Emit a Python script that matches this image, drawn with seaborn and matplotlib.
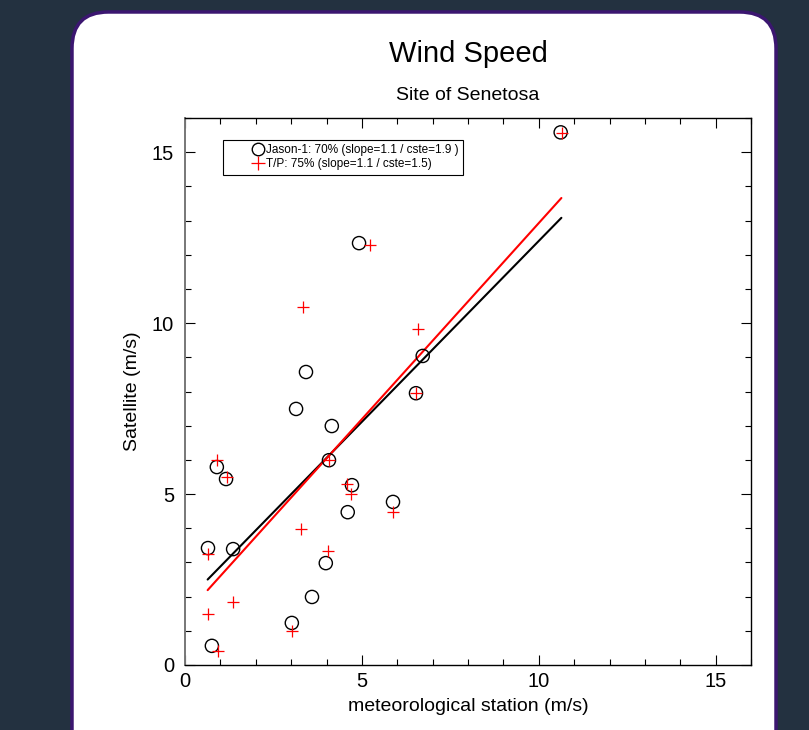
import numpy as np
import pandas as pd
import seaborn as sns
import matplotlib.pyplot as plt
from matplotlib.patches import FancyBboxPatch
from matplotlib.lines import Line2D

sns.set_theme(style='ticks')
plt.rcParams['font.family'] = ['Liberation Sans', 'DejaVu Sans']
plt.rcParams['text.color'] = 'black'
plt.rcParams['axes.labelcolor'] = 'black'

# Jason-1 points (station, satellite)
jason_x = [0.65, 0.9, 1.16, 0.76, 1.36, 3.14, 3.42, 4.15, 4.07, 4.72, 4.6, 3.98, 3.59, 3.02, 4.92, 5.88, 6.53, 6.72, 10.62]
jason_y = [3.42, 5.79, 5.44, 0.56, 3.39, 7.49, 8.57, 6.99, 5.99, 5.26, 4.47, 2.98, 1.99, 1.23, 12.34, 4.77, 7.95, 9.04, 15.58]
# T/P points
tp_x = [0.66, 0.9, 1.2, 0.66, 0.94, 1.35, 3.02, 3.28, 4.05, 4.57, 4.68, 5.89, 4.08, 3.34, 6.6, 6.53, 5.23, 10.65]
tp_y = [3.24, 5.99, 5.5, 1.49, 0.42, 1.83, 1.0, 3.98, 3.34, 5.28, 4.99, 4.48, 6.0, 10.48, 9.84, 7.96, 12.28, 15.55]
# regression line ends
fit_x = [0.64, 10.64]
jason_fit = [2.5, 13.08]
tp_fit = [2.19, 13.66]

labels = ['Jason-1: 70% (slope=1.1 / cste=1.9 )', 'T/P: 75% (slope=1.1 / cste=1.5)']

fig = plt.figure(figsize=(8.09, 7.3), dpi=100)
fig.patch.set_facecolor('#233140')

# white card behind the axes
card = FancyBboxPatch((72/809, -0.05), (776-72)/809, (718/730)+0.05,
                      boxstyle='round,pad=0,rounding_size=0.045',
                      mutation_aspect=809/730,
                      transform=fig.transFigure, facecolor='white',
                      edgecolor='#3b1670', linewidth=2.5, zorder=-1)
fig.patches.append(card)

ax = fig.add_axes([185/809, 65/730, 566/809, 547/730])
ax.set_facecolor('white')

sns.lineplot(x=fit_x, y=jason_fit, color='black', linewidth=1.5, ax=ax)
sns.lineplot(x=fit_x, y=tp_fit, color='red', linewidth=1.5, ax=ax)
sns.scatterplot(x=jason_x, y=jason_y, marker='o', s=90, facecolors='none',
                edgecolor='black', linewidth=1.0, ax=ax, zorder=3)
sns.scatterplot(x=tp_x, y=tp_y, marker='+', s=85, color='red',
                linewidth=0.9, ax=ax, zorder=4)

ax.set_xlim(0, 16)
ax.set_ylim(0, 16)
ax.set_xticks([0, 5, 10, 15])
ax.set_yticks([0, 5, 10, 15])
ax.set_xticks(np.arange(0, 17, 1), minor=True)
ax.set_yticks(np.arange(0, 17, 1), minor=True)
ax.tick_params(which='both', direction='in', top=True, right=True, colors='black',
               labelsize=14.5, width=0.8)
ax.tick_params(which='major', length=7, pad=8)
ax.tick_params(which='minor', length=4)
ax.tick_params(axis='x', which='major', pad=5)
for sp in ax.spines.values():
    sp.set_color('black')
    sp.set_linewidth(1.0)
ax.spines['left'].set_color('#777777')
ax.spines['left'].set_linewidth(1.4)

ax.set_xlabel('meteorological station (m/s)', fontsize=14, labelpad=5)
ax.set_ylabel('Satellite (m/s)', fontsize=14, labelpad=8)

handles = [Line2D([], [], marker='o', markersize=9, markerfacecolor='none',
                  markeredgecolor='black', linestyle='none', markeredgewidth=1.0),
           Line2D([], [], marker='+', markersize=10, color='red',
                  linestyle='none', markeredgewidth=0.9)]
leg = ax.legend(handles, labels, loc='upper left', bbox_to_anchor=(0.067, 0.96),
                borderaxespad=0, fontsize=8.5, handlelength=5.25,
                handletextpad=-1.95, labelspacing=0.2, borderpad=0.35,
                fancybox=False, framealpha=1, edgecolor='black')
leg.get_frame().set_linewidth(0.8)

fig.text(468/809, 1 - 54/730, 'Wind Speed', ha='center', va='center', fontsize=21)
fig.text(468/809, 1 - 95/730, 'Site of Senetosa', ha='center', va='center', fontsize=14)

fig.savefig('out.png', dpi=100, facecolor=fig.get_facecolor())
